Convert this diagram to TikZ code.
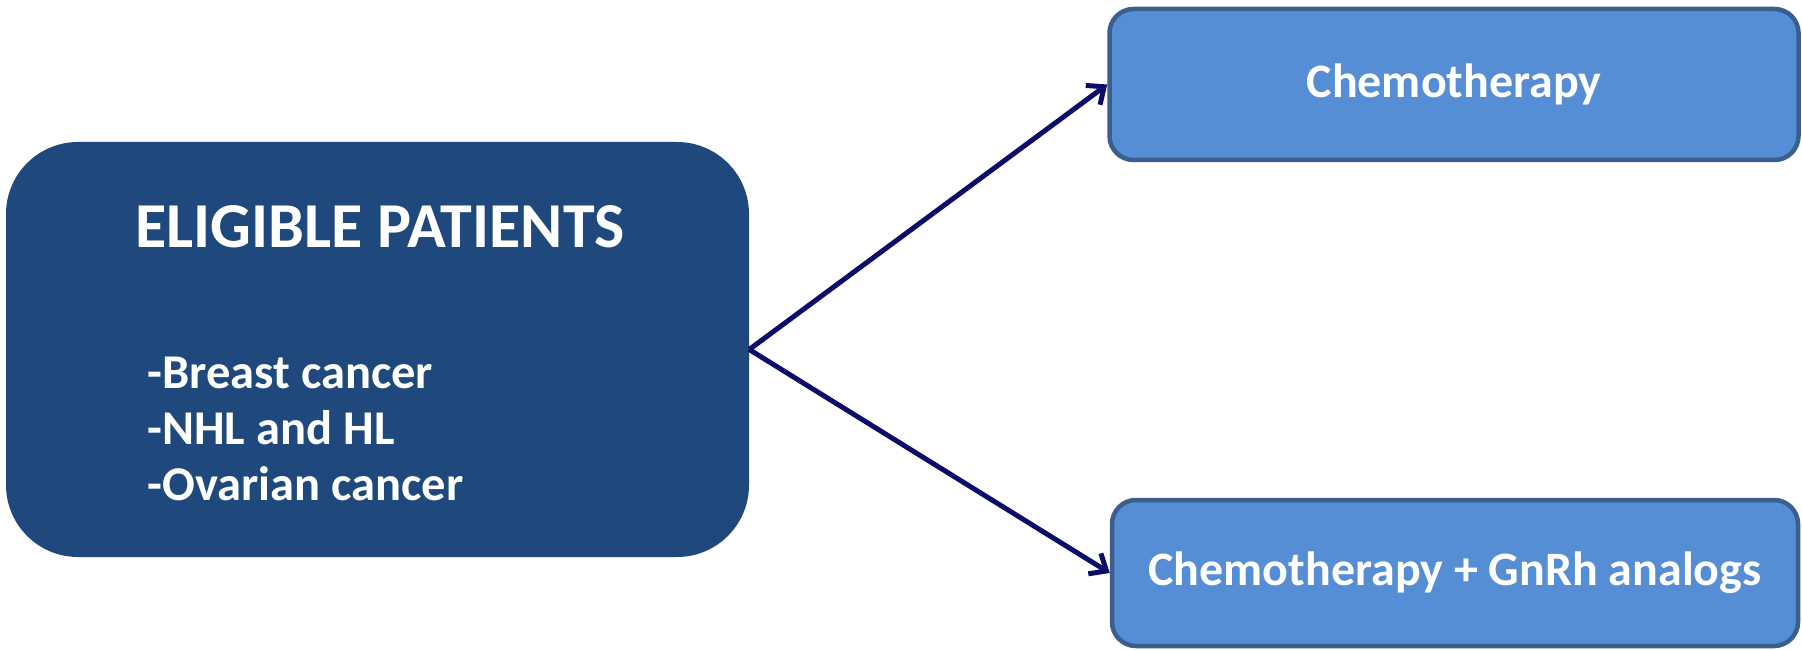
\documentclass[tikz,border=0pt]{standalone}
\usepackage{fontspec}
\setmainfont{Carlito}
\usetikzlibrary{arrows.meta,positioning}
\definecolor{patblue}{HTML}{1F497D}
\definecolor{armblue}{HTML}{558ED5}
\definecolor{armedge}{HTML}{3A5F8E}
\definecolor{arrnavy}{HTML}{0C0C6A}
\begin{document}
\begin{tikzpicture}[
  x=1pt, y=-1pt,
  pat/.style={fill=patblue, rounded corners=72pt, minimum width=743pt, minimum height=415pt, inner sep=0pt},
  arm/.style={draw=armedge, line width=4.5pt, fill=armblue, rounded corners=24pt, text=white, font=\fontsize{48}{56}\selectfont\bfseries},
  arr/.style={-{Straight Barb[length=14pt, width=24pt, line width=5pt]}, line width=5pt, draw=arrnavy}
]
\useasboundingbox (0,0) rectangle (1802,650);
\node[pat] (pat) at (377.5,349.5) {};
\node[text=white, font=\fontsize{64}{76}\selectfont\bfseries] (title) at (380,227) {ELIGIBLE PATIENTS};
\node[text=white, anchor=west, align=left, font=\fontsize{48.5}{56}\selectfont\bfseries] (list) at (144,429) {-Breast cancer\\-NHL and HL\\-Ovarian cancer};

\node[arm, minimum width=689pt, minimum height=151pt] (chemo) at (1454,84.5) {Chemotherapy};
\node[arm, minimum width=686pt, minimum height=146pt] (gnrh) at (1455,573) {Chemotherapy + GnRh analogs};

\draw[arr] (pat.east) -- (chemo.west);
\draw[arr] (pat.east) -- (gnrh.west);
\end{tikzpicture}
\end{document}
